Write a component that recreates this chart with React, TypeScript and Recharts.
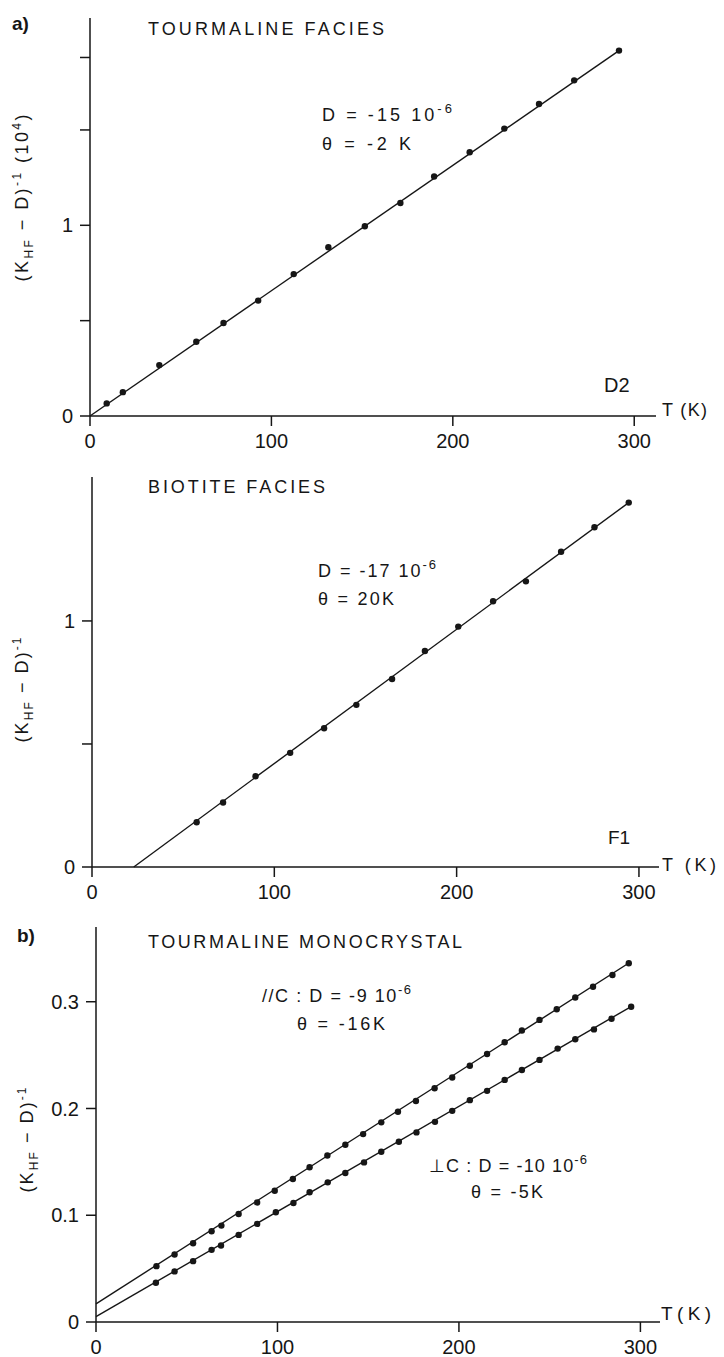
import React from 'react'
import { ComposedChart, Line, Scatter, XAxis, YAxis } from 'recharts'

// temperature axis, shared by the three panels
const tempTicks = [0, 100, 200, 300]

// a) tourmaline facies, sample D2
const d2Temp = [9.2, 18.1, 38.2, 58.6, 73.6, 92.7, 112.3, 131.4, 151.5, 171.1, 189.7, 209.3, 228.4, 247.5, 266.9, 291.6]
const d2Inv = [0.066, 0.125, 0.267, 0.389, 0.488, 0.605, 0.744, 0.885, 0.995, 1.117, 1.256, 1.383, 1.507, 1.636, 1.76, 1.916]
const d2FitTemp = [0, 293]
const d2FitInv = [0, 1.925]
const d2Ticks = [0, 0.5, 1, 1.5, 1.88]

// biotite facies, sample F1
const f1Temp = [57.4, 71.9, 89.7, 108.7, 127.3, 145.0, 164.6, 182.6, 200.9, 220.0, 238.0, 257.3, 275.6, 294.4]
const f1Inv = [0.182, 0.262, 0.369, 0.464, 0.564, 0.659, 0.764, 0.878, 0.977, 1.08, 1.161, 1.281, 1.381, 1.481]
const f1FitTemp = [22.9, 294.4]
const f1FitInv = [0, 1.481]
const f1Ticks = [0, 0.5, 1]

// b) tourmaline monocrystal, parallel and perpendicular to c
const parTemp = [33.3, 43.3, 53.5, 63.7, 69.1, 78.6, 88.8, 98.5, 108.5, 117.7, 127.5, 137.4, 147.2, 157.2, 166.4, 176.3, 186.6, 196.3, 206.0, 215.5, 225.2, 234.7, 244.4, 253.9, 264.1, 273.9, 284.6, 293.6]
const parInv = [0.0523, 0.0632, 0.0738, 0.085, 0.0903, 0.1012, 0.112, 0.123, 0.134, 0.145, 0.156, 0.166, 0.176, 0.187, 0.197, 0.207, 0.219, 0.229, 0.24, 0.251, 0.262, 0.273, 0.283, 0.293, 0.304, 0.314, 0.325, 0.336]
const parFitTemp = [0, 294.3]
const parFitInv = [0.017, 0.337]

const perpTemp = [33.0, 43.3, 53.5, 63.7, 68.9, 78.6, 88.8, 99.1, 108.8, 117.7, 127.7, 137.4, 147.7, 157.2, 166.9, 176.6, 186.8, 196.3, 206.0, 215.5, 225.2, 234.7, 244.4, 254.4, 264.1, 274.4, 284.1, 294.9]
const perpInv = [0.0368, 0.0474, 0.057, 0.0676, 0.0717, 0.0816, 0.0919, 0.1028, 0.1115, 0.1215, 0.1308, 0.1396, 0.1495, 0.1595, 0.1688, 0.1776, 0.1875, 0.1978, 0.2078, 0.2165, 0.2268, 0.2361, 0.2455, 0.2561, 0.2648, 0.2741, 0.2841, 0.2953]
const perpFitTemp = [0, 294.9]
const perpFitInv = [0.005, 0.2955]
const monoTicks = [0, 0.1, 0.2, 0.3]

const zip = (t: number[], v: number[]) => t.map((T, i) => ({ T, v: v[i] }))

const FONT = '"Liberation Sans", Arial, sans-serif'
const INK = '#161616'

function Dot(props: any) {
  const { cx, cy } = props
  if (cx == null || cy == null) return null
  return <circle cx={cx} cy={cy} r={3.2} fill={INK} />
}

type Series = { points: { T: number; v: number }[]; fit: { T: number; v: number }[] }

interface PanelProps {
  top: number
  height: number
  xAxisHeight: number
  margin: { top: number; right: number; bottom: number; left: number }
  xMax: number
  yMax: number
  yTicks: number[]
  yFormat: (v: number) => string
  series: Series[]
}

function Panel({ top, height, xAxisHeight, margin, xMax, yMax, yTicks, yFormat, series }: PanelProps) {
  const axisStyle = { stroke: INK, strokeWidth: 1.5 }
  const tickStyle = { fill: INK, fontSize: 20, fontFamily: FONT }
  return (
    <div style={{ position: 'absolute', left: 0, top, width: 724, height }}>
      <ComposedChart width={724} height={height} margin={margin}>
        <XAxis
          type="number"
          dataKey="T"
          domain={[0, xMax]}
          ticks={tempTicks}
          interval={0}
          height={xAxisHeight}
          tickSize={10}
          tickMargin={8}
          axisLine={axisStyle}
          tickLine={axisStyle}
          tick={tickStyle}
        />
        <YAxis
          type="number"
          dataKey="v"
          domain={[0, yMax]}
          ticks={yTicks}
          interval={0}
          width={60}
          tickSize={10}
          tickMargin={7}
          tickFormatter={yFormat}
          axisLine={axisStyle}
          tickLine={axisStyle}
          tick={tickStyle}
        />
        {series.map((s, i) => (
          <Line key={'fit' + i} data={s.fit} dataKey="v" type="linear" stroke={INK} strokeWidth={1.4} dot={false} activeDot={false} isAnimationActive={false} />
        ))}
        {series.map((s, i) => (
          <Scatter key={'pts' + i} data={s.points} dataKey="v" shape={Dot} isAnimationActive={false} />
        ))}
      </ComposedChart>
    </div>
  )
}

function Txt({ x, y, len, size = 18, bold = false, children }: any) {
  return (
    <text
      x={x}
      y={y}
      fontSize={size}
      fontFamily={FONT}
      fontWeight={bold ? 'bold' : 'normal'}
      fill={INK}
      textLength={len}
      lengthAdjust={len ? 'spacing' : undefined}
    >
      {children}
    </text>
  )
}

function Sup({ children }: any) {
  return (
    <tspan dy={-8} fontSize={13}>
      {children}
    </tspan>
  )
}

function YTitle({ cx, cy, len, scale }: { cx: number; cy: number; len: number; scale: boolean }) {
  return (
    <text
      x={cx}
      y={cy + 6}
      transform={`rotate(-90 ${cx} ${cy})`}
      textAnchor="middle"
      fontSize={18}
      fontFamily={FONT}
      fill={INK}
      textLength={len}
      lengthAdjust="spacing"
    >
      (K
      <tspan dy={5} fontSize={12}>HF</tspan>
      <tspan dy={-5}> − D)</tspan>
      <tspan dy={-7} fontSize={12}>-1</tspan>
      {scale ? (
        <>
          <tspan dy={7}> (10</tspan>
          <tspan dy={-7} fontSize={12}>4</tspan>
          <tspan dy={7}>)</tspan>
        </>
      ) : null}
    </text>
  )
}

export default function App() {
  const oneDigit = (v: number) => (v === 0 || v === 1 ? String(v) : '')
  const decimal = (v: number) => (v === 0 ? '0' : v.toFixed(1))

  return (
    <div style={{ position: 'absolute', left: 0, top: 0, width: 724, height: 1357, background: '#fff' }}>
      <Panel
        top={0}
        height={460}
        xAxisHeight={44}
        margin={{ top: 18, right: 68, bottom: 0, left: 30 }}
        xMax={312}
        yMax={2.087}
        yTicks={d2Ticks}
        yFormat={oneDigit}
        series={[{ points: zip(d2Temp, d2Inv), fit: zip(d2FitTemp, d2FitInv) }]}
      />
      <Panel
        top={455}
        height={460}
        xAxisHeight={48}
        margin={{ top: 22, right: 65, bottom: 0, left: 32 }}
        xMax={311}
        yMax={1.585}
        yTicks={f1Ticks}
        yFormat={oneDigit}
        series={[{ points: zip(f1Temp, f1Inv), fit: zip(f1FitTemp, f1FitInv) }]}
      />
      <Panel
        top={900}
        height={457}
        xAxisHeight={35}
        margin={{ top: 27, right: 64, bottom: 0, left: 36 }}
        xMax={310.8}
        yMax={0.37}
        yTicks={monoTicks}
        yFormat={decimal}
        series={[
          { points: zip(parTemp, parInv), fit: zip(parFitTemp, parFitInv) },
          { points: zip(perpTemp, perpInv), fit: zip(perpFitTemp, perpFitInv) },
        ]}
      />

      <svg width={724} height={1357} style={{ position: 'absolute', left: 0, top: 0, pointerEvents: 'none' }}>
        {/* panel a */}
        <Txt x={12} y={30} size={19} bold>a)</Txt>
        <Txt x={148} y={35} len={236}>TOURMALINE FACIES</Txt>
        <Txt x={322} y={121} len={130}>D = -15  10<Sup>-6</Sup></Txt>
        <Txt x={322} y={150} len={89}>θ = -2 K</Txt>
        <Txt x={604} y={392} size={20}>D2</Txt>
        <Txt x={662} y={416} len={45}>T (K)</Txt>
        <YTitle cx={22} cy={198} len={167} scale />

        {/* biotite */}
        <Txt x={148} y={493} len={177}>BIOTITE FACIES</Txt>
        <Txt x={318} y={577} len={118}>D = -17  10<Sup>-6</Sup></Txt>
        <Txt x={318} y={605} len={76}>θ = 20K</Txt>
        <Txt x={608} y={844} size={19}>F1</Txt>
        <Txt x={662} y={871} len={54}>T (K)</Txt>
        <YTitle cx={22} cy={690} len={105} scale={false} />

        {/* panel b */}
        <Txt x={17} y={942} size={19} bold>b)</Txt>
        <Txt x={148} y={948} len={314}>TOURMALINE MONOCRYSTAL</Txt>
        <Txt x={262} y={1002} len={149}>//C : D = -9  10<Sup>-6</Sup></Txt>
        <Txt x={297} y={1030} len={88}>θ = -16K</Txt>
        <Txt x={429} y={1172} len={158}>⊥C : D = -10  10<Sup>-6</Sup></Txt>
        <Txt x={471} y={1198} len={72}>θ = -5K</Txt>
        <Txt x={661} y={1320} size={19} len={50}>T(K)</Txt>
        <YTitle cx={27} cy={1140} len={105} scale={false} />
      </svg>
    </div>
  )
}
